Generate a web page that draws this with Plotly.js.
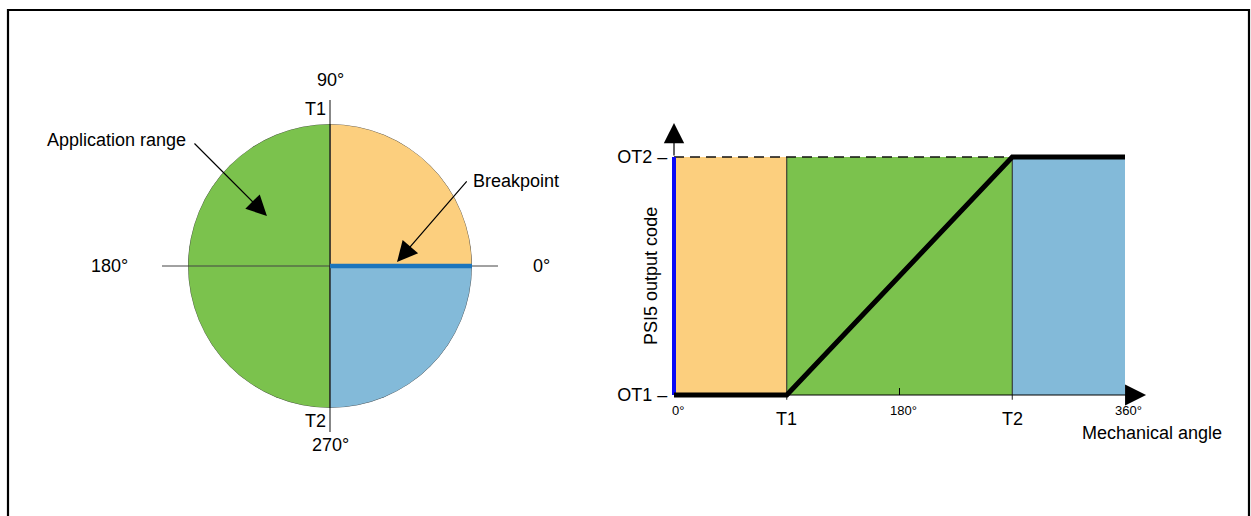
<!DOCTYPE html>
<html><head><meta charset="utf-8">
<script src="https://cdn.plot.ly/plotly-3.0.1.min.js"></script>
<style>html,body{margin:0;padding:0;background:#fff}#chart{width:1251px;height:516px}</style>
</head><body><div id="chart"></div>
<script>
// ---------------- data ----------------
const zoneNames = ['Below T1', 'Application range', 'Above T2'];
const zoneStart = [0, 90, 270];          // mechanical angle (deg)
const zoneEnd = [90, 270, 360];
const zoneColors = ['#FCCF7E', '#7BC24D', '#83BAD9'];
const outputAngle = [0, 90, 270, 360];   // mechanical angle (deg)
const outputCode = [0, 0, 1, 1];         // 0 = OT1, 1 = OT2
const codeTickVals = [0, 1];
const codeTickText = ['OT1 –', 'OT2 –'];
const angleTickVals = [0, 90, 180, 270, 360];
const angleTickText = ['0°', 'T1', '180°', 'T2', '360°'];
const breakpointAngle = 0;

// ---------------- layout geometry ----------------
const W = 1251, H = 516;
const FONT = 'Liberation Sans, Arial, sans-serif';
// circle
const cx = 330, cy = 266, R = 142, EXT = 1.65;
const polarDomain = {x: [(cx - R) / W, (cx + R) / W], y: [(H - cy - R) / H, (H - cy + R) / H]};
const circDomain = {x: [(cx - EXT * R) / W, (cx + EXT * R) / W], y: [(H - cy - EXT * R) / H, (H - cy + EXT * R) / H]};
// right chart
const px0 = 674, px360 = 1125, pyLo = 395, pyHi = 157;
const k = (px360 - px0) / 360;
const xr = [-28, 392];
const kv = (pyLo - pyHi);
const yr = [-0.2, 1.16];
const x2Domain = [(px0 + xr[0] * k) / W, (px0 + xr[1] * k) / W];
const y2Domain = [(H - (pyLo - yr[0] * kv)) / H, (H - (pyLo - yr[1] * kv)) / H];

const traces = [
  {
    type: 'barpolar', subplot: 'polar',
    r: zoneStart.map(() => 1),
    theta: zoneStart.map((s, i) => (s + zoneEnd[i]) / 2),
    width: zoneStart.map((s, i) => zoneEnd[i] - s),
    name: '', text: zoneNames,
    marker: {color: zoneColors, line: {color: '#444', width: 0.8}},
    hoverinfo: 'text'
  },
  {x: [0], y: [0], xaxis: 'x3', yaxis: 'y3', mode: 'markers', marker: {opacity: 0}, hoverinfo: 'skip'},
  {
    x: [outputAngle[0], outputAngle[0]], y: [codeTickVals[0], codeTickVals[1]],
    xaxis: 'x2', yaxis: 'y2', mode: 'lines', line: {color: '#0A0AF5', width: 4}, hoverinfo: 'skip'
  },
  {
    x: outputAngle, y: outputCode, xaxis: 'x2', yaxis: 'y2', mode: 'lines',
    line: {color: '#000', width: 5}, hoverinfo: 'x+y'
  }
];

const shapes = [
  // frame
  {type: 'rect', xref: 'paper', yref: 'paper', x0: 8 / W, x1: 1249 / W, y0: -0.1, y1: (H - 10) / H,
   line: {color: '#000', width: 2.2}, layer: 'above'},
  // circle axes
  {type: 'line', xref: 'x3', yref: 'y3', x0: -1.183, x1: 1.183, y0: 0, y1: 0, line: {color: '#444', width: 1}, layer: 'above'},
  {type: 'line', xref: 'x3', yref: 'y3', x0: 0, x1: 0, y0: -1.169, y1: 1.169, line: {color: '#111', width: 1}, layer: 'above'},
  // breakpoint
  {type: 'line', xref: 'x3', yref: 'y3', x0: 0, y0: 0,
   x1: Math.cos(breakpointAngle * Math.PI / 180), y1: Math.sin(breakpointAngle * Math.PI / 180),
   line: {color: '#1C75BC', width: 4.5}, layer: 'above'}
];
zoneStart.forEach((s, i) => {
  shapes.push({type: 'rect', xref: 'x2', yref: 'y2', x0: s, x1: zoneEnd[i], y0: codeTickVals[0], y1: codeTickVals[1],
    fillcolor: zoneColors[i], line: {width: 0}, layer: 'below'});
});
[zoneStart[1], zoneStart[2]].forEach(b => {
  shapes.push({type: 'line', xref: 'x2', yref: 'y2', x0: b, x1: b, y0: -0.02, y1: codeTickVals[1],
    line: {color: '#222', width: 1}, layer: 'below'});
});
shapes.push({type: 'line', xref: 'x2', yref: 'y2', x0: outputAngle[0], x1: outputAngle[2], y0: codeTickVals[1], y1: codeTickVals[1],
  line: {color: '#111', width: 1.3, dash: '10px,6px'}, layer: 'below'});

const f = (size) => ({family: FONT, size: size, color: '#000'});
const ann = [];
// circle labels
function cl(text, x, y, size) {
  ann.push({xref: 'x3', yref: 'y3', x: x, y: y, text: text, showarrow: false, font: f(size || 18)});
}
cl('90°', 0, 1.31);
cl('T1', -0.1, 1.106);
cl('T2', -0.1, -1.092);
cl('270°', 0, -1.26);
cl('180°', -1.555, 0);
cl('0°', 1.49, 0);
cl('Application range', -1.505, 0.89);
cl('Breakpoint', 1.312, 0.6);
// arrows
function arrow(xref, yref, tx, ty, hx, hy, size) {
  ann.push({xref: xref, yref: yref, axref: xref, ayref: yref, x: hx, y: hy, ax: tx, ay: ty, text: '',
    showarrow: true, arrowhead: 2, arrowsize: size || 3.4, arrowwidth: 1.2, arrowcolor: '#000', standoff: 0, startstandoff: 0});
}
arrow('x3', 'y3', -0.965, 0.873, -0.444, 0.352);
arrow('x3', 'y3', 0.972, 0.606, 0.472, 0.028);
// right-chart axis arrows
arrow('x2', 'y2', outputAngle[0], codeTickVals[0], 376.8, codeTickVals[0], 3.5);
arrow('x2', 'y2', outputAngle[0], codeTickVals[1], outputAngle[0], 1.143, 3.4);
// x tick labels
angleTickVals.forEach((v, i) => {
  const big = angleTickText[i].startsWith('T');
  ann.push({xref: 'x2', yref: 'y2', x: v + (big ? 0 : 3), y: big ? -0.1 : -0.065, text: angleTickText[i],
    showarrow: false, font: f(big ? 18 : 13)});
});
ann.push({xref: 'x2', yref: 'y2', x: 381.5, y: -0.158, text: 'Mechanical angle', showarrow: false, font: f(18)});
ann.push({xref: 'x2', yref: 'y2', x: -18.4, y: 0.5, text: 'PSI5 output code', textangle: -90, showarrow: false, font: f(18)});

const layout = {
  width: W, height: H, margin: {l: 0, r: 0, t: 0, b: 0},
  paper_bgcolor: '#fff', plot_bgcolor: 'rgba(0,0,0,0)',
  showlegend: false, font: f(17),
  polar: {
    domain: polarDomain, bgcolor: 'rgba(0,0,0,0)', bargap: 0, hole: 0,
    radialaxis: {visible: false, range: [0, 1]},
    angularaxis: {visible: false, rotation: 0, direction: 'counterclockwise'}
  },
  xaxis3: {domain: circDomain.x, range: [-EXT, EXT], visible: false, anchor: 'y3', fixedrange: true},
  yaxis3: {domain: circDomain.y, range: [-EXT, EXT], visible: false, anchor: 'x3', fixedrange: true},
  xaxis2: {
    domain: x2Domain, range: xr, anchor: 'free', position: (H - pyLo) / H,
    showgrid: false, zeroline: false, showline: false,
    tickvals: [angleTickVals[2]], ticks: 'inside', ticklen: 7, tickwidth: 1, tickcolor: '#000', showticklabels: false, fixedrange: true
  },
  yaxis2: {
    domain: y2Domain, range: yr, anchor: 'free', position: px0 / W,
    showgrid: false, zeroline: false, showline: false,
    tickvals: codeTickVals, ticktext: codeTickText, ticks: 'outside', ticklen: 3, tickcolor: 'rgba(0,0,0,0)',
    tickfont: f(18), fixedrange: true
  },
  shapes: shapes, annotations: ann
};

Plotly.newPlot('chart', traces, layout, {displayModeBar: false, staticPlot: true});
</script>
</body></html>
